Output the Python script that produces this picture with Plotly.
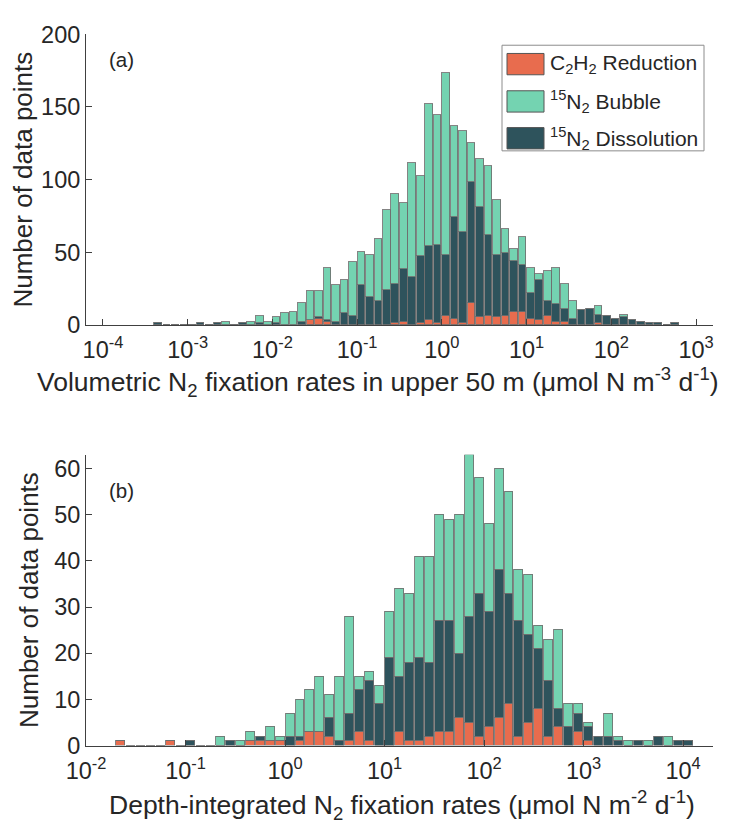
import numpy as np
import plotly.graph_objects as go

# ---------------- data ----------------
# Panel (a): histogram bins of 0.1 decade, first bin left edge at log10 = -3.4
a_first_bin = -3.4
a_c2h2 = [0, 0, 0, 0, 0, 0, 0, 0, 0, 0, 0, 0, 0, 0, 0, 0, 0, 0,
          3, 4, 2, 0, 0, 0, 0, 0, 0, 0, 1, 2, 0, 1, 3, 1, 6, 4, 1, 15, 5, 6,
          5, 6, 9, 9, 4, 3, 6, 2, 2, 0, 0, 0, 1,
          0, 0, 0, 0, 0, 0, 0, 0, 0]
a_diss = [1, 0, 0, 0, 0, 1, 0, 1, 0, 0, 1, 0, 1, 0, 1, 0, 0, 2,
          0, 1, 1, 2, 8, 6, 27, 19, 16, 24, 27, 36, 33, 46, 51, 54, 42, 70, 63, 83, 76, 56,
          43, 43, 35, 32, 18, 28, 10, 12, 9, 4, 10, 11, 6,
          6, 4, 5, 3, 2, 1, 1, 0, 1]
a_bubble = [0, 0, 0, 0, 0, 0, 0, 0, 2, 0, 0, 2, 5, 2, 4, 8, 9, 13,
            20, 18, 36, 25, 23, 37, 23, 29, 43, 55, 62, 46, 78, 55, 98, 89, 125, 63, 69, 27, 33, 47,
            38, 17, 8, 19, 17, 4, 21, 25, 17, 12, 0, 0, 6,
            0, 0, 2, 0, 0, 0, 0, 0, 0]

# Panel (b): histogram bins of 0.1 decade, first bin left edge at log10 = -1.7
b_first_bin = -1.7
b_c2h2 = [1, 0, 0, 0, 0, 1, 0, 0, 0, 0, 0, 0, 0, 1, 1, 1, 1, 0, 1, 3,
          3, 2, 0, 1, 3, 1, 0, 0, 3, 1, 1, 2, 3, 3, 6, 5, 2, 4, 6, 9,
          2, 5, 8, 2, 4, 0, 3, 1, 0, 0, 0, 0, 0, 0, 0, 0, 0, 0]
b_diss = [0, 0, 0, 0, 0, 0, 0, 1, 0, 0, 0, 1, 0, 0, 1, 0, 0, 2, 1, 0,
          0, 4, 1, 6, 9, 13, 9, 19, 12, 17, 18, 16, 24, 24, 14, 23, 31, 25, 32, 24,
          25, 19, 13, 12, 4, 4, 4, 3, 2, 2, 1, 0, 1, 0, 2, 0, 1, 1]
b_bubble = [0, 0, 0, 0, 0, 0, 0, 0, 0, 0, 2, 0, 1, 2, 0, 3, 1, 5, 8, 9,
            12, 5, 14, 21, 3, 2, 4, 10, 19, 15, 22, 23, 23, 22, 30, 35, 25, 19, 22, 22,
            11, 13, 5, 9, 17, 5, 2, 1, 0, 5, 1, 1, 0, 1, 0, 2, 0, 0]

bin_step = 0.1  # decades

a_ticks = [-4, -3, -2, -1, 0, 1, 2, 3]
a_ticktext = ["10<sup>-4</sup>", "10<sup>-3</sup>", "10<sup>-2</sup>", "10<sup>-1</sup>",
              "10<sup>0</sup>", "10<sup>1</sup>", "10<sup>2</sup>", "10<sup>3</sup>"]
b_ticks = [-2, -1, 0, 1, 2, 3, 4]
b_ticktext = ["10<sup>-2</sup>", "10<sup>-1</sup>", "10<sup>0</sup>", "10<sup>1</sup>",
              "10<sup>2</sup>", "10<sup>3</sup>", "10<sup>4</sup>"]
a_yticks = [0, 50, 100, 150, 200]
b_yticks = [0, 10, 20, 30, 40, 50, 60]

series_names = ["C<sub>2</sub>H<sub>2</sub> Reduction",
                "<sup>15</sup>N<sub>2</sub> Bubble",
                "<sup>15</sup>N<sub>2</sub> Dissolution"]
a_xtitle = "Volumetric N<sub>2</sub> fixation rates in upper 50 m (μmol N m<sup>-3</sup> d<sup>-1</sup>)"
b_xtitle = "Depth-integrated N<sub>2</sub> fixation rates (μmol N m<sup>-2</sup> d<sup>-1</sup>)"
ytitle = "Number of data points"

# ---------------- style ----------------
C_ORANGE = "#E86C4E"
C_GREEN = "#74D3B1"
C_DARK = "#2E535C"
EDGE = "rgba(110,110,110,0.85)"
FONT = "Liberation Sans, Arial, Helvetica, sans-serif"
TXT = "#262626"
AX = "#404040"

W, H = 732, 839
OFF = 8  # page body margin: figure pixel = page pixel - OFF


def centers(first, n):
    return np.round(first + bin_step * (np.arange(n) + 0.5), 3)


fig = go.Figure()

xa = centers(a_first_bin, len(a_c2h2))
xb = centers(b_first_bin, len(b_c2h2))

for xs, vals, col, nm, ax in [
    (xa, a_c2h2, C_ORANGE, series_names[0], ("x", "y")),
    (xa, a_diss, C_DARK, series_names[2], ("x", "y")),
    (xa, a_bubble, C_GREEN, series_names[1], ("x", "y")),
    (xb, b_c2h2, C_ORANGE, series_names[0], ("x2", "y2")),
    (xb, b_diss, C_DARK, series_names[2], ("x2", "y2")),
    (xb, b_bubble, C_GREEN, series_names[1], ("x2", "y2")),
]:
    fig.add_trace(go.Bar(
        x=xs, y=vals, width=bin_step * 0.9,
        marker=dict(color=col, line=dict(color=EDGE, width=1)),
        name=nm, showlegend=False, xaxis=ax[0], yaxis=ax[1],
    ))

# geometry in page pixels
L_PX, R_PX = 86 - OFF, 713 - OFF
A_TOP, A_BOT = 21.7 - OFF, 321.7 - OFF
B_TOP, B_BOT = 455.5 - OFF, 755.7 - OFF
PW = R_PX - L_PX


def ydom(top, bot):
    return [(H - bot) / H, (H - top) / H]


def px_x(page_px):
    return (page_px - OFF - L_PX) / PW


def px_y(page_py):
    return (H - (page_py - OFF)) / H


axis_common = dict(
    showline=True, linecolor=AX, linewidth=1,
    ticks="inside", ticklen=6, tickcolor=AX, tickwidth=1,
    showgrid=False, zeroline=False,
    tickfont=dict(family=FONT, size=23.5, color=TXT),
)
xaxis_extra = dict(ticklabelstandoff=4)

fig.update_layout(
    width=W, height=H,
    margin=dict(l=L_PX, r=W - R_PX, t=0, b=0),
    paper_bgcolor="white", plot_bgcolor="white",
    barmode="stack", bargap=0,
    showlegend=False,
    font=dict(family=FONT, color=TXT),
    xaxis=dict(axis_common, **xaxis_extra, range=[-4.2, 3.2], tickvals=a_ticks, ticktext=a_ticktext,
               anchor="y", domain=[0, 1]),
    yaxis=dict(axis_common, range=[0, 200], tickvals=a_yticks, domain=ydom(A_TOP, A_BOT),
               anchor="x",
               title=dict(text=ytitle, font=dict(family=FONT, size=26, color=TXT), standoff=8)),
    xaxis2=dict(axis_common, **xaxis_extra, range=[-2, 4.3], tickvals=b_ticks, ticktext=b_ticktext,
                anchor="y2", domain=[0, 1]),
    yaxis2=dict(axis_common, range=[0, 63], tickvals=b_yticks, domain=ydom(B_TOP, B_BOT),
                anchor="x2",
                title=dict(text=ytitle, font=dict(family=FONT, size=26, color=TXT), standoff=8)),
)

# x-axis titles (placed as in the reference)
fig.add_annotation(text=a_xtitle, xref="paper", yref="paper", x=px_x(378), y=px_y(381),
                   xanchor="center", yanchor="middle", showarrow=False,
                   font=dict(family=FONT, size=26.5, color=TXT))
fig.add_annotation(text=b_xtitle, xref="paper", yref="paper", x=px_x(402), y=px_y(817),
                   xanchor="center", yanchor="middle", showarrow=False,
                   font=dict(family=FONT, size=26.5, color=TXT))

# panel letters
fig.add_annotation(text="(a)", xref="paper", yref="paper", x=px_x(107), y=px_y(48),
                   xanchor="left", yanchor="middle", showarrow=False,
                   font=dict(family=FONT, size=20.5, color=TXT))
fig.add_annotation(text="(b)", xref="paper", yref="paper", x=px_x(107), y=px_y(492),
                   xanchor="left", yanchor="middle", showarrow=False,
                   font=dict(family=FONT, size=20.5, color=TXT))

# legend (panel a, top right)
fig.add_shape(type="rect", xref="paper", yref="paper",
              x0=px_x(502), x1=px_x(704), y0=px_y(142), y1=px_y(33),
              line=dict(color="#8c8c8c", width=1), fillcolor="white", layer="above")
legend_rows = [(series_names[0], C_ORANGE, 52.5), (series_names[1], C_GREEN, 91), (series_names[2], C_DARK, 129)]
for nm, col, cy in legend_rows:
    fig.add_shape(type="rect", xref="paper", yref="paper",
                  x0=px_x(507), x1=px_x(544), y0=px_y(cy + 11), y1=px_y(cy - 11),
                  line=dict(color="#555555", width=1), fillcolor=col, layer="above")
    fig.add_annotation(text=nm, xref="paper", yref="paper", x=px_x(548), y=px_y(cy),
                       xanchor="left", yanchor="middle", showarrow=False,
                       font=dict(family=FONT, size=21, color=TXT))

fig.write_html("out.html")
